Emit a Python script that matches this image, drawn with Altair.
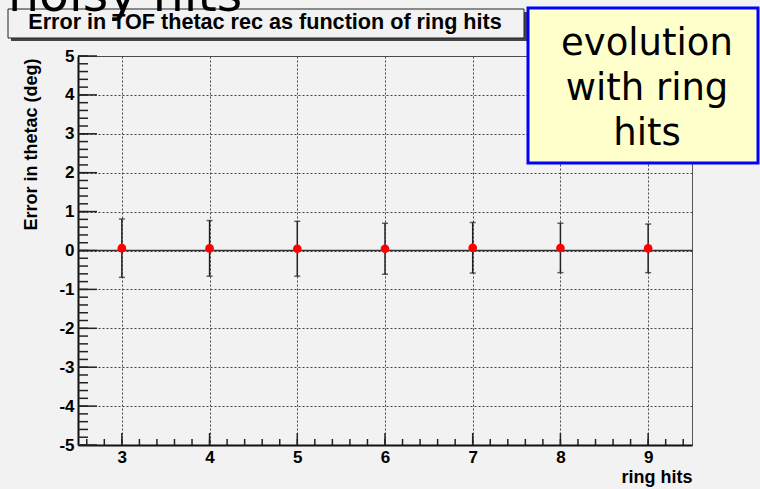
import altair as alt
import pandas as pd

# ---- data ----
ring_hits = [3, 4, 5, 6, 7, 8, 9]
err_thetac = [0.06, 0.055, 0.045, 0.045, 0.07, 0.065, 0.055]
err_bar = [0.75, 0.715, 0.705, 0.655, 0.65, 0.635, 0.625]

x_major = [3, 4, 5, 6, 7, 8, 9]
y_major = [-5, -4, -3, -2, -1, 0, 1, 2, 3, 4, 5]
x_minor = [round(2.6 + 0.2 * i, 1) for i in range(35) if round(2.6 + 0.2 * i, 1) <= 9.4]
y_minor = [round(-5 + 0.2 * i, 1) for i in range(51)]

title_text = "Error in TOF thetac rec as function of ring hits"
big_text = "noisy hits"
box_lines = ["evolution", "with ring", "hits"]
x_title = "ring hits"
y_title = "Error in thetac (deg)"

W, H = 614, 389
BG = "#f2f2f2"
FONT = "Liberation Sans"

df = pd.DataFrame({"x": ring_hits, "y": err_thetac, "e": err_bar})
df["lo"] = df["y"] - df["e"]
df["hi"] = df["y"] + df["e"]

xs = alt.Scale(domain=[2.5, 9.5], nice=False, zero=False)
ys = alt.Scale(domain=[-5, 5], nice=False, zero=False)

X_AX = alt.Axis(values=x_major, ticks=False, grid=True, title=x_title,
                titleX=W, titleY=37, titleAlign="right", titleBaseline="alphabetic",
                titleAnchor="end", labelExpr="toString(datum.value)")
Y_AX = alt.Axis(values=y_major, ticks=False, grid=True, title=y_title,
                titleX=-42, titleY=2, titleAngle=270, titleAlign="right",
                titleBaseline="alphabetic", titleAnchor="end",
                labelExpr="toString(datum.value)")

one = pd.DataFrame({"a": [0]})

# error bars
bars = alt.Chart(df).mark_rule(color="#222222", strokeWidth=1.5).encode(
    x=alt.X("x:Q", scale=xs, axis=X_AX),
    y=alt.Y("lo:Q", scale=ys, axis=Y_AX),
    y2="hi:Q",
)
cap_hi = alt.Chart(df).mark_tick(orient="horizontal", color="#222222", size=6, thickness=1.5).encode(
    x=alt.X("x:Q", scale=xs, axis=X_AX), y=alt.Y("hi:Q", scale=ys, axis=Y_AX))
cap_lo = alt.Chart(df).mark_tick(orient="horizontal", color="#222222", size=6, thickness=1.5).encode(
    x=alt.X("x:Q", scale=xs, axis=X_AX), y=alt.Y("lo:Q", scale=ys, axis=Y_AX))
points = alt.Chart(df).mark_point(filled=True, color="#ff0000", size=75, opacity=1, shape="circle").encode(
    x=alt.X("x:Q", scale=xs, axis=X_AX), y=alt.Y("y:Q", scale=ys, axis=Y_AX))

# zero line
zero = alt.Chart(pd.DataFrame({"z": [0]})).mark_rule(color="#333333", strokeWidth=1.5).encode(
    y=alt.Y("z:Q", scale=ys, axis=Y_AX), x=alt.value(0), x2=alt.value(W))

# ticks (inward)
ymaj = alt.Chart(pd.DataFrame({"t": y_major})).mark_rule(color="#222222", strokeWidth=1.5).encode(
    y=alt.Y("t:Q", scale=ys, axis=Y_AX), x=alt.value(0), x2=alt.value(19))
ymin = alt.Chart(pd.DataFrame({"t": y_minor})).mark_rule(color="#222222", strokeWidth=1.5).encode(
    y=alt.Y("t:Q", scale=ys, axis=Y_AX), x=alt.value(0), x2=alt.value(10))
xmaj = alt.Chart(pd.DataFrame({"t": x_major})).mark_rule(color="#222222", strokeWidth=1.5).encode(
    x=alt.X("t:Q", scale=xs, axis=X_AX), y=alt.value(H), y2=alt.value(H - 12))
xmin = alt.Chart(pd.DataFrame({"t": x_minor})).mark_rule(color="#222222", strokeWidth=1.5).encode(
    x=alt.X("t:Q", scale=xs, axis=X_AX), y=alt.value(H), y2=alt.value(H - 6))

# title box with shadow
shadow = alt.Chart(one).mark_rect(color="#444444").encode(
    x=alt.value(-67), x2=alt.value(449), y=alt.value(-44), y2=alt.value(-15))
tbox = alt.Chart(one).mark_rect(fill="#f2f2f2", stroke="#222222", strokeWidth=1).encode(
    x=alt.value(-70), x2=alt.value(446), y=alt.value(-47), y2=alt.value(-18))
ttext = alt.Chart(one).mark_text(text=title_text, font=FONT, fontWeight="bold", fontSize=21.6,
                                 align="center", baseline="alphabetic", color="black").encode(
    x=alt.value(187), y=alt.value(-27))

big = alt.Chart(one).mark_text(text=big_text, font="DejaVu Sans", fontSize=49,
                               align="left", baseline="alphabetic", color="black").encode(
    x=alt.value(-70), y=alt.value(-45))

ybox = alt.Chart(one).mark_rect(fill="#ffffcc", stroke="#0000ff", strokeWidth=3).encode(
    x=alt.value(450), x2=alt.value(680), y=alt.value(-48), y2=alt.value(107))
ytext = alt.Chart(one).mark_text(text=box_lines, font="DejaVu Sans", fontSize=37, lineHeight=45,
                                 align="center", baseline="alphabetic", color="black").encode(
    x=alt.value(569), y=alt.value(-1))

chart = alt.layer(
    zero, ymaj, ymin, xmaj, xmin, bars, cap_hi, cap_lo, points,
    shadow, tbox, ttext, big, ybox, ytext
).properties(
    width=W, height=H, background=BG,
    autosize=alt.AutoSizeParams(type="none"),
    padding={"left": 78, "top": 56, "right": 68, "bottom": 44},
).configure_view(
    stroke="#555555", strokeWidth=1, fill=BG
).configure_axis(
    gridColor="#444444", gridDash=[2, 2], gridWidth=1, gridOpacity=1,
    domainColor="#111111", domainWidth=2,
    labelFont=FONT, labelFontWeight="bold", labelFontSize=17, labelColor="black",
    labelPadding=4,
    titleFont=FONT, titleFontWeight="bold", titleFontSize=18, titleColor="black",
)

chart.save("out.html", embed_options={"renderer": "svg", "actions": False})
